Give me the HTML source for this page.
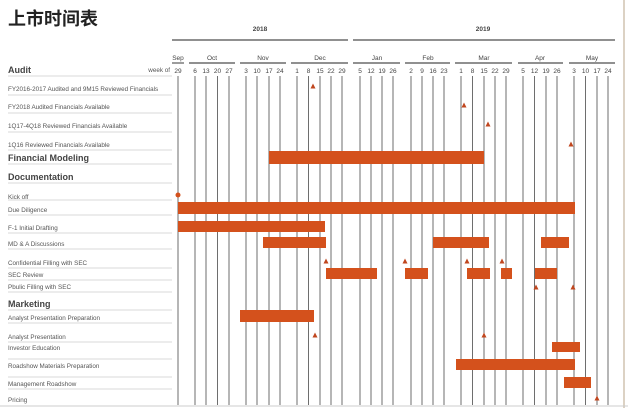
<!DOCTYPE html>
<html><head><meta charset="utf-8"><style>
body{margin:0;background:#fff;width:628px;height:408px;overflow:hidden}
svg{display:block}
.l{font-family:"Liberation Sans",sans-serif;font-size:6.3px;fill:#555}
.h{font-family:"Liberation Sans",sans-serif;font-size:9px;font-weight:bold;fill:#444}
.d{font-family:"Liberation Sans",sans-serif;font-size:6.5px;fill:#444;text-anchor:middle}
</style></head><body>
<svg width="628" height="408" viewBox="0 0 628 408" xmlns="http://www.w3.org/2000/svg">
<text x="8" y="25" font-family="'Liberation Sans','Noto Sans CJK SC',sans-serif" font-size="18" font-weight="bold" fill="#222">上市时间表</text>
<text x="260" y="31" class="d" font-weight="bold">2018</text>
<text x="483" y="31" class="d" font-weight="bold">2019</text>
<line x1="172" y1="40" x2="348" y2="40" stroke="#222" stroke-width="1"/>
<line x1="353" y1="40" x2="615" y2="40" stroke="#222" stroke-width="1"/>
<g class="d">
<text x="178" y="60">Sep</text><text x="212" y="60">Oct</text><text x="263" y="60">Nov</text><text x="320" y="60">Dec</text><text x="377" y="60">Jan</text><text x="428" y="60">Feb</text><text x="484" y="60">Mar</text><text x="540" y="60">Apr</text><text x="592" y="60">May</text>
</g>
<g stroke="#222" stroke-width="0.9">
<line x1="172" y1="63" x2="184" y2="63"/><line x1="189" y1="63" x2="235" y2="63"/><line x1="240" y1="63" x2="286" y2="63"/><line x1="291" y1="63" x2="348" y2="63"/><line x1="353" y1="63" x2="400" y2="63"/><line x1="405" y1="63" x2="450" y2="63"/><line x1="455" y1="63" x2="512" y2="63"/><line x1="518" y1="63" x2="563" y2="63"/><line x1="569" y1="63" x2="615" y2="63"/>
</g>
<text x="170" y="72" class="l" text-anchor="end" font-size="5.5">week of</text>
<g class="d" id="days"></g>
<g id="vl" stroke="#6e6e6e" stroke-width="1"></g>
<line x1="624" y1="0" x2="624" y2="408" stroke="#b9a68a" stroke-width="1"/>
<line x1="0" y1="406" x2="628" y2="406" stroke="#ccc" stroke-width="1"/>
<g stroke="#ccc" stroke-width="0.7">
<line x1="8" y1="76" x2="172" y2="76"/><line x1="8" y1="95" x2="172" y2="95"/><line x1="8" y1="113" x2="172" y2="113"/><line x1="8" y1="132" x2="172" y2="132"/><line x1="8" y1="150" x2="172" y2="150"/><line x1="8" y1="164" x2="172" y2="164"/><line x1="8" y1="183" x2="172" y2="183"/><line x1="8" y1="200" x2="172" y2="200"/><line x1="8" y1="215" x2="172" y2="215"/><line x1="8" y1="233" x2="172" y2="233"/><line x1="8" y1="249" x2="172" y2="249"/><line x1="8" y1="268" x2="172" y2="268"/><line x1="8" y1="280" x2="172" y2="280"/><line x1="8" y1="292" x2="172" y2="292"/><line x1="8" y1="310" x2="172" y2="310"/><line x1="8" y1="323" x2="172" y2="323"/><line x1="8" y1="342" x2="172" y2="342"/><line x1="8" y1="359" x2="172" y2="359"/><line x1="8" y1="377" x2="172" y2="377"/><line x1="8" y1="389" x2="172" y2="389"/>
</g>
<text x="8" y="73" class="h" font-size="10">Audit</text>
<text x="8" y="91" class="l">FY2016-2017 Audited and 9M15 Reviewed Financials</text>
<text x="8" y="109" class="l">FY2018 Audited Financials Available</text>
<text x="8" y="128" class="l">1Q17-4Q18 Reviewed Financials Available</text>
<text x="8" y="147" class="l">1Q16 Reviewed Financials Available</text>
<text x="8" y="161" class="h">Financial Modeling</text>
<text x="8" y="180" class="h">Documentation</text>
<text x="8" y="199" class="l">Kick off</text>
<text x="8" y="212" class="l">Due Diligence</text>
<text x="8" y="230" class="l">F-1 Initial Drafting</text>
<text x="8" y="246" class="l">MD &amp; A Discussions</text>
<text x="8" y="265" class="l">Confidential Filling with SEC</text>
<text x="8" y="277" class="l">SEC Review</text>
<text x="8" y="289" class="l">Pbulic Filling with SEC</text>
<text x="8" y="307" class="h">Marketing</text>
<text x="8" y="320" class="l">Analyst Presentation Preparation</text>
<text x="8" y="339" class="l">Analyst Presentation</text>
<text x="8" y="350" class="l">Investor Education</text>
<text x="8" y="368" class="l">Roadshow Materials Preparation</text>
<text x="8" y="386" class="l">Management Roadshow</text>
<text x="8" y="402" class="l">Pricing</text>
<g fill="#d4511c">
<rect x="269" y="151" width="215" height="13"/>
<rect x="178" y="202" width="397" height="12"/>
<rect x="178" y="221" width="147" height="11"/>
<rect x="263" y="237" width="63" height="11"/><rect x="433" y="237" width="56" height="11"/><rect x="541" y="237" width="28" height="11"/>
<rect x="326" y="268" width="51" height="11"/><rect x="405" y="268" width="23" height="11"/><rect x="467" y="268" width="23" height="11"/><rect x="501" y="268" width="11" height="11"/><rect x="535" y="268" width="22" height="11"/>
<rect x="240" y="310" width="74" height="12"/>
<rect x="552" y="342" width="28" height="10"/>
<rect x="456" y="359" width="119" height="11"/>
<rect x="564" y="377" width="27" height="11"/>
</g>
<g fill="#c0461e" id="tri"></g>
<circle cx="178" cy="195" r="2.5" fill="#d4511c"/>
</svg>
<script>
var xs=[178,195,206,217.5,229,246,257,269,280,297,308.5,320,331,342,360,371,382,393,411,422,433,444,461,472.5,484,495,506,523,534.5,546,557,574,585.5,597,608];
var ds=[29,6,13,20,27,3,10,17,24,1,8,15,22,29,5,12,19,26,2,9,16,23,1,8,15,22,29,5,12,19,26,3,10,17,24];
var ns="http://www.w3.org/2000/svg",g=document.getElementById('days'),v=document.getElementById('vl');
xs.forEach(function(x,i){var t=document.createElementNS(ns,'text');t.setAttribute('x',x);t.setAttribute('y',73);t.textContent=ds[i];g.appendChild(t);
var l=document.createElementNS(ns,'line');l.setAttribute('x1',x);l.setAttribute('x2',x);l.setAttribute('y1',76);l.setAttribute('y2',405);v.appendChild(l);});
var tr=[[313,86],[464,105],[488,124],[571,144],[326,261],[405,261],[467,261],[502,261],[536,287],[573,287],[315,335],[484,335],[597,398]],T=document.getElementById('tri');
tr.forEach(function(p){var q=document.createElementNS(ns,'polygon');q.setAttribute('points',(p[0]-2.5)+','+(p[1]+2.5)+' '+(p[0]+2.5)+','+(p[1]+2.5)+' '+p[0]+','+(p[1]-2.5));T.appendChild(q);});
</script>
</body></html>
